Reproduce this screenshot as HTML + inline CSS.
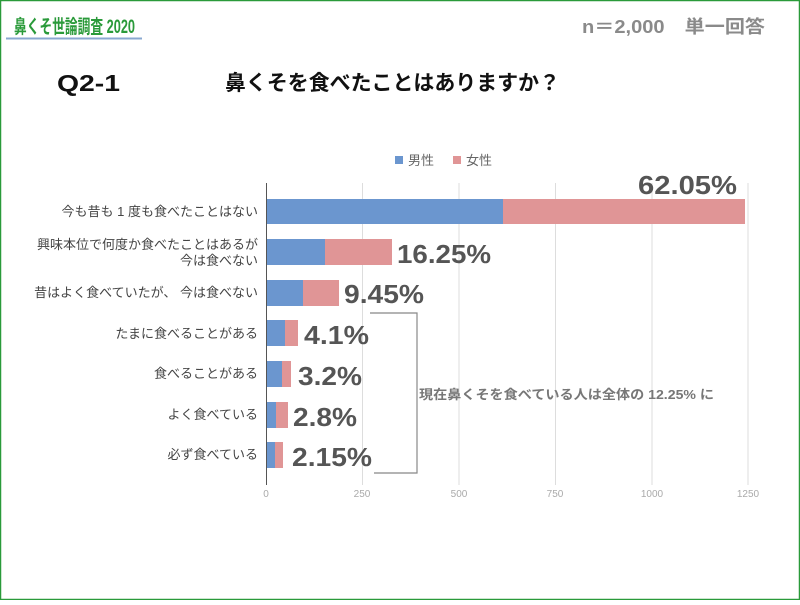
<!DOCTYPE html>
<html><head><meta charset="utf-8"><style>
body{margin:0;width:800px;height:600px;overflow:hidden;background:#fff;font-family:"Liberation Sans","Noto Sans CJK JP",sans-serif}
</style></head><body>
<svg width="800" height="600" xmlns="http://www.w3.org/2000/svg" font-family="Liberation Sans, Noto Sans CJK JP, sans-serif">
<rect x="0.5" y="0.5" width="799" height="599" fill="#fff" stroke="#2a9a3a" stroke-width="1.5"/>
<text x="14" y="33" font-size="19" font-weight="bold" fill="#2a9a3a" textLength="121" lengthAdjust="spacingAndGlyphs">鼻くそ世論調査 2020</text>
<line x1="6" y1="38.5" x2="142" y2="38.5" stroke="#8aa8d0" stroke-width="2"/>
<text x="582" y="33" font-size="18" font-weight="bold" fill="#8a8a8a" textLength="183" lengthAdjust="spacingAndGlyphs">n＝2,000　単一回答</text>
<text x="57" y="91" font-size="23" font-weight="bold" fill="#111" textLength="63" lengthAdjust="spacingAndGlyphs">Q2-1</text>
<text x="225" y="90" font-size="21" font-weight="bold" fill="#111" textLength="335" lengthAdjust="spacingAndGlyphs">鼻くそを食べたことはありますか？</text>
<rect x="395" y="156" width="8" height="8" fill="#6b96cf"/>
<text x="408" y="165" font-size="13" fill="#666">男性</text>
<rect x="453" y="156" width="8" height="8" fill="#e09596"/>
<text x="466" y="165" font-size="13" fill="#666">女性</text>
<g stroke="#ddd" stroke-width="1">
<line x1="362.5" y1="183" x2="362.5" y2="485"/><line x1="459" y1="183" x2="459" y2="485"/><line x1="555.5" y1="183" x2="555.5" y2="485"/><line x1="652" y1="183" x2="652" y2="485"/><line x1="748" y1="183" x2="748" y2="485"/>
</g>
<line x1="266.5" y1="183" x2="266.5" y2="485" stroke="#555" stroke-width="1"/>
<g font-size="10" fill="#aaa" text-anchor="middle">
<text x="266" y="497">0</text><text x="362" y="497">250</text><text x="459" y="497">500</text><text x="555" y="497">750</text><text x="652" y="497">1000</text><text x="748" y="497">1250</text>
</g>
<g fill="#6b96cf">
<rect x="267" y="199" width="236" height="25"/><rect x="267" y="239" width="58" height="26"/><rect x="267" y="280" width="36" height="26"/><rect x="267" y="320" width="18" height="26"/><rect x="267" y="361" width="15" height="26"/><rect x="267" y="402" width="9" height="26"/><rect x="267" y="442" width="8" height="26"/>
</g>
<g fill="#e09596">
<rect x="503" y="199" width="242" height="25"/><rect x="325" y="239" width="67" height="26"/><rect x="303" y="280" width="36" height="26"/><rect x="285" y="320" width="13" height="26"/><rect x="282" y="361" width="9" height="26"/><rect x="276" y="402" width="12" height="26"/><rect x="275" y="442" width="8" height="26"/>
</g>
<g font-size="13" fill="#444" text-anchor="end">
<text x="258" y="216">今も昔も 1 度も食べたことはない</text>
<text x="258" y="249">興味本位で何度か食べたことはあるが</text>
<text x="258" y="265">今は食べない</text>
<text x="258" y="297">昔はよく食べていたが、 今は食べない</text>
<text x="258" y="338">たまに食べることがある</text>
<text x="258" y="378">食べることがある</text>
<text x="258" y="419">よく食べている</text>
<text x="258" y="459">必ず食べている</text>
</g>
<g font-size="26" font-weight="bold" fill="#555">
<text x="638" y="194" textLength="99" lengthAdjust="spacingAndGlyphs">62.05%</text>
<text x="397" y="263" textLength="94" lengthAdjust="spacingAndGlyphs">16.25%</text>
<text x="344" y="303" textLength="80" lengthAdjust="spacingAndGlyphs">9.45%</text>
<text x="304" y="344" textLength="65" lengthAdjust="spacingAndGlyphs">4.1%</text>
<text x="298" y="385" textLength="64" lengthAdjust="spacingAndGlyphs">3.2%</text>
<text x="293" y="426" textLength="64" lengthAdjust="spacingAndGlyphs">2.8%</text>
<text x="292" y="466" textLength="80" lengthAdjust="spacingAndGlyphs">2.15%</text>
</g>
<polyline points="370,313 417,313 417,473 374,473" fill="none" stroke="#888" stroke-width="1.2"/>
<text x="419" y="399" font-size="13" font-weight="bold" fill="#777" textLength="295" lengthAdjust="spacingAndGlyphs">現在鼻くそを食べている人は全体の 12.25% に</text>
</svg>
</body></html>
